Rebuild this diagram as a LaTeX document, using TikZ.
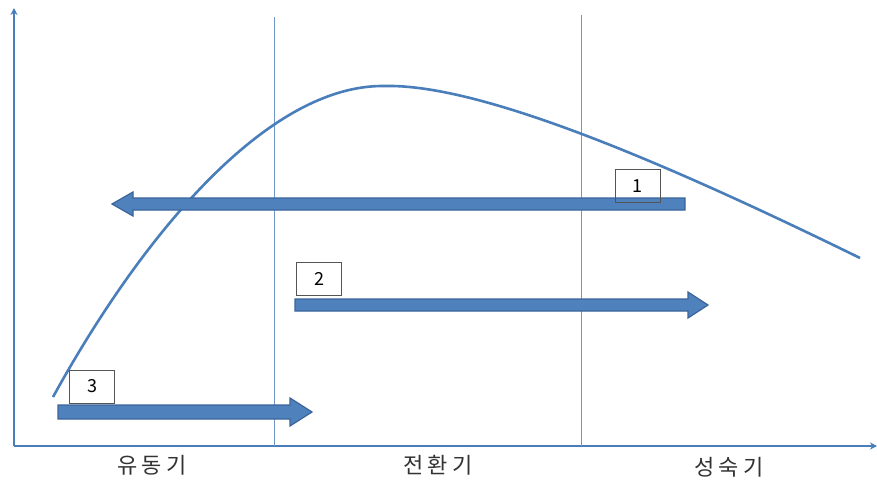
\documentclass[tikz,border=0pt]{standalone}
\usepackage{fontspec}
\newfontfamily\kr{Noto Sans CJK KR}
\newfontfamily\krwide[LetterSpace=18]{Noto Sans CJK KR}
\usetikzlibrary{arrows.meta}
\begin{document}
\begin{tikzpicture}[x=1pt,y=-1pt,
  axisline/.style={draw=axisblue,line width=2.2pt,-{Stealth[length=7pt,width=7pt]}},
  divline/.style={draw=divblue,line width=1pt},
  curveline/.style={draw=axisblue,line width=2.6pt},
  blockarrow/.style={fill=arrowfill,draw=arrowedge,line width=1.2pt,line join=miter},
  numbox/.style={draw=boxgray,line width=0.8pt,minimum width=45pt,minimum height=33pt,inner sep=0pt,font=\kr\fontsize{18}{18}\selectfont,text=black},
  phase/.style={font=\krwide\fontsize{22}{22}\selectfont,text=textgray,inner sep=0pt}
]
\definecolor{axisblue}{HTML}{4A7EBB}
\definecolor{divblue}{HTML}{7096C6}
\definecolor{arrowfill}{HTML}{4F81BD}
\definecolor{arrowedge}{HTML}{3A659A}
\definecolor{boxgray}{HTML}{555555}
\definecolor{textgray}{HTML}{333333}
\useasboundingbox (0,0) rectangle (877,479);
\fill[white] (0,0) rectangle (877,479);
% axes
\coordinate (o) at (14,446);
\coordinate (ytop) at (14,8);
\coordinate (xend) at (877,446);
\draw[axisline] (o) -- (ytop);
\draw[axisline] (o) -- (xend);
% dividers
\coordinate (d1t) at (274,17);
\coordinate (d1b) at (274,446);
\coordinate (d2t) at (581,15);
\coordinate (d2b) at (581,446);
\draw[divline] (d1t) -- (d1b);
\draw[divline] (d2t) -- (d2b);
% curve
\coordinate (cs) at (53,397);
\coordinate (cp) at (385,86);
\coordinate (ce) at (860,258);
\draw[curveline] (cs) .. controls (145,230) and (270,84) .. (cp)
                      .. controls (480,84) and (660,160) .. (ce);
% arrow 1 (leftward)
\draw[blockarrow] (685,198) -- (133,198) -- (133,192) -- (112,204) -- (133,216) -- (133,210) -- (685,210) -- cycle;
% arrow 2 (rightward)
\draw[blockarrow] (295,299) -- (688,299) -- (688,292) -- (708,305) -- (688,318) -- (688,311) -- (295,311) -- cycle;
% arrow 3 (rightward)
\draw[blockarrow] (58,405) -- (290,405) -- (290,398) -- (312,412) -- (290,426) -- (290,419) -- (58,419) -- cycle;
% number boxes
\node[numbox] (b1) at (637.5,186) {1};
\node[numbox] (b2) at (319,279) {2};
\node[numbox] (b3) at (92,386.5) {3};
% phase labels
\node[phase] (p1) at (152,465) {유동기};
\node[phase] (p2) at (438,465) {전환기};
\node[phase] (p3) at (729,467) {성숙기};
\end{tikzpicture}
\end{document}
